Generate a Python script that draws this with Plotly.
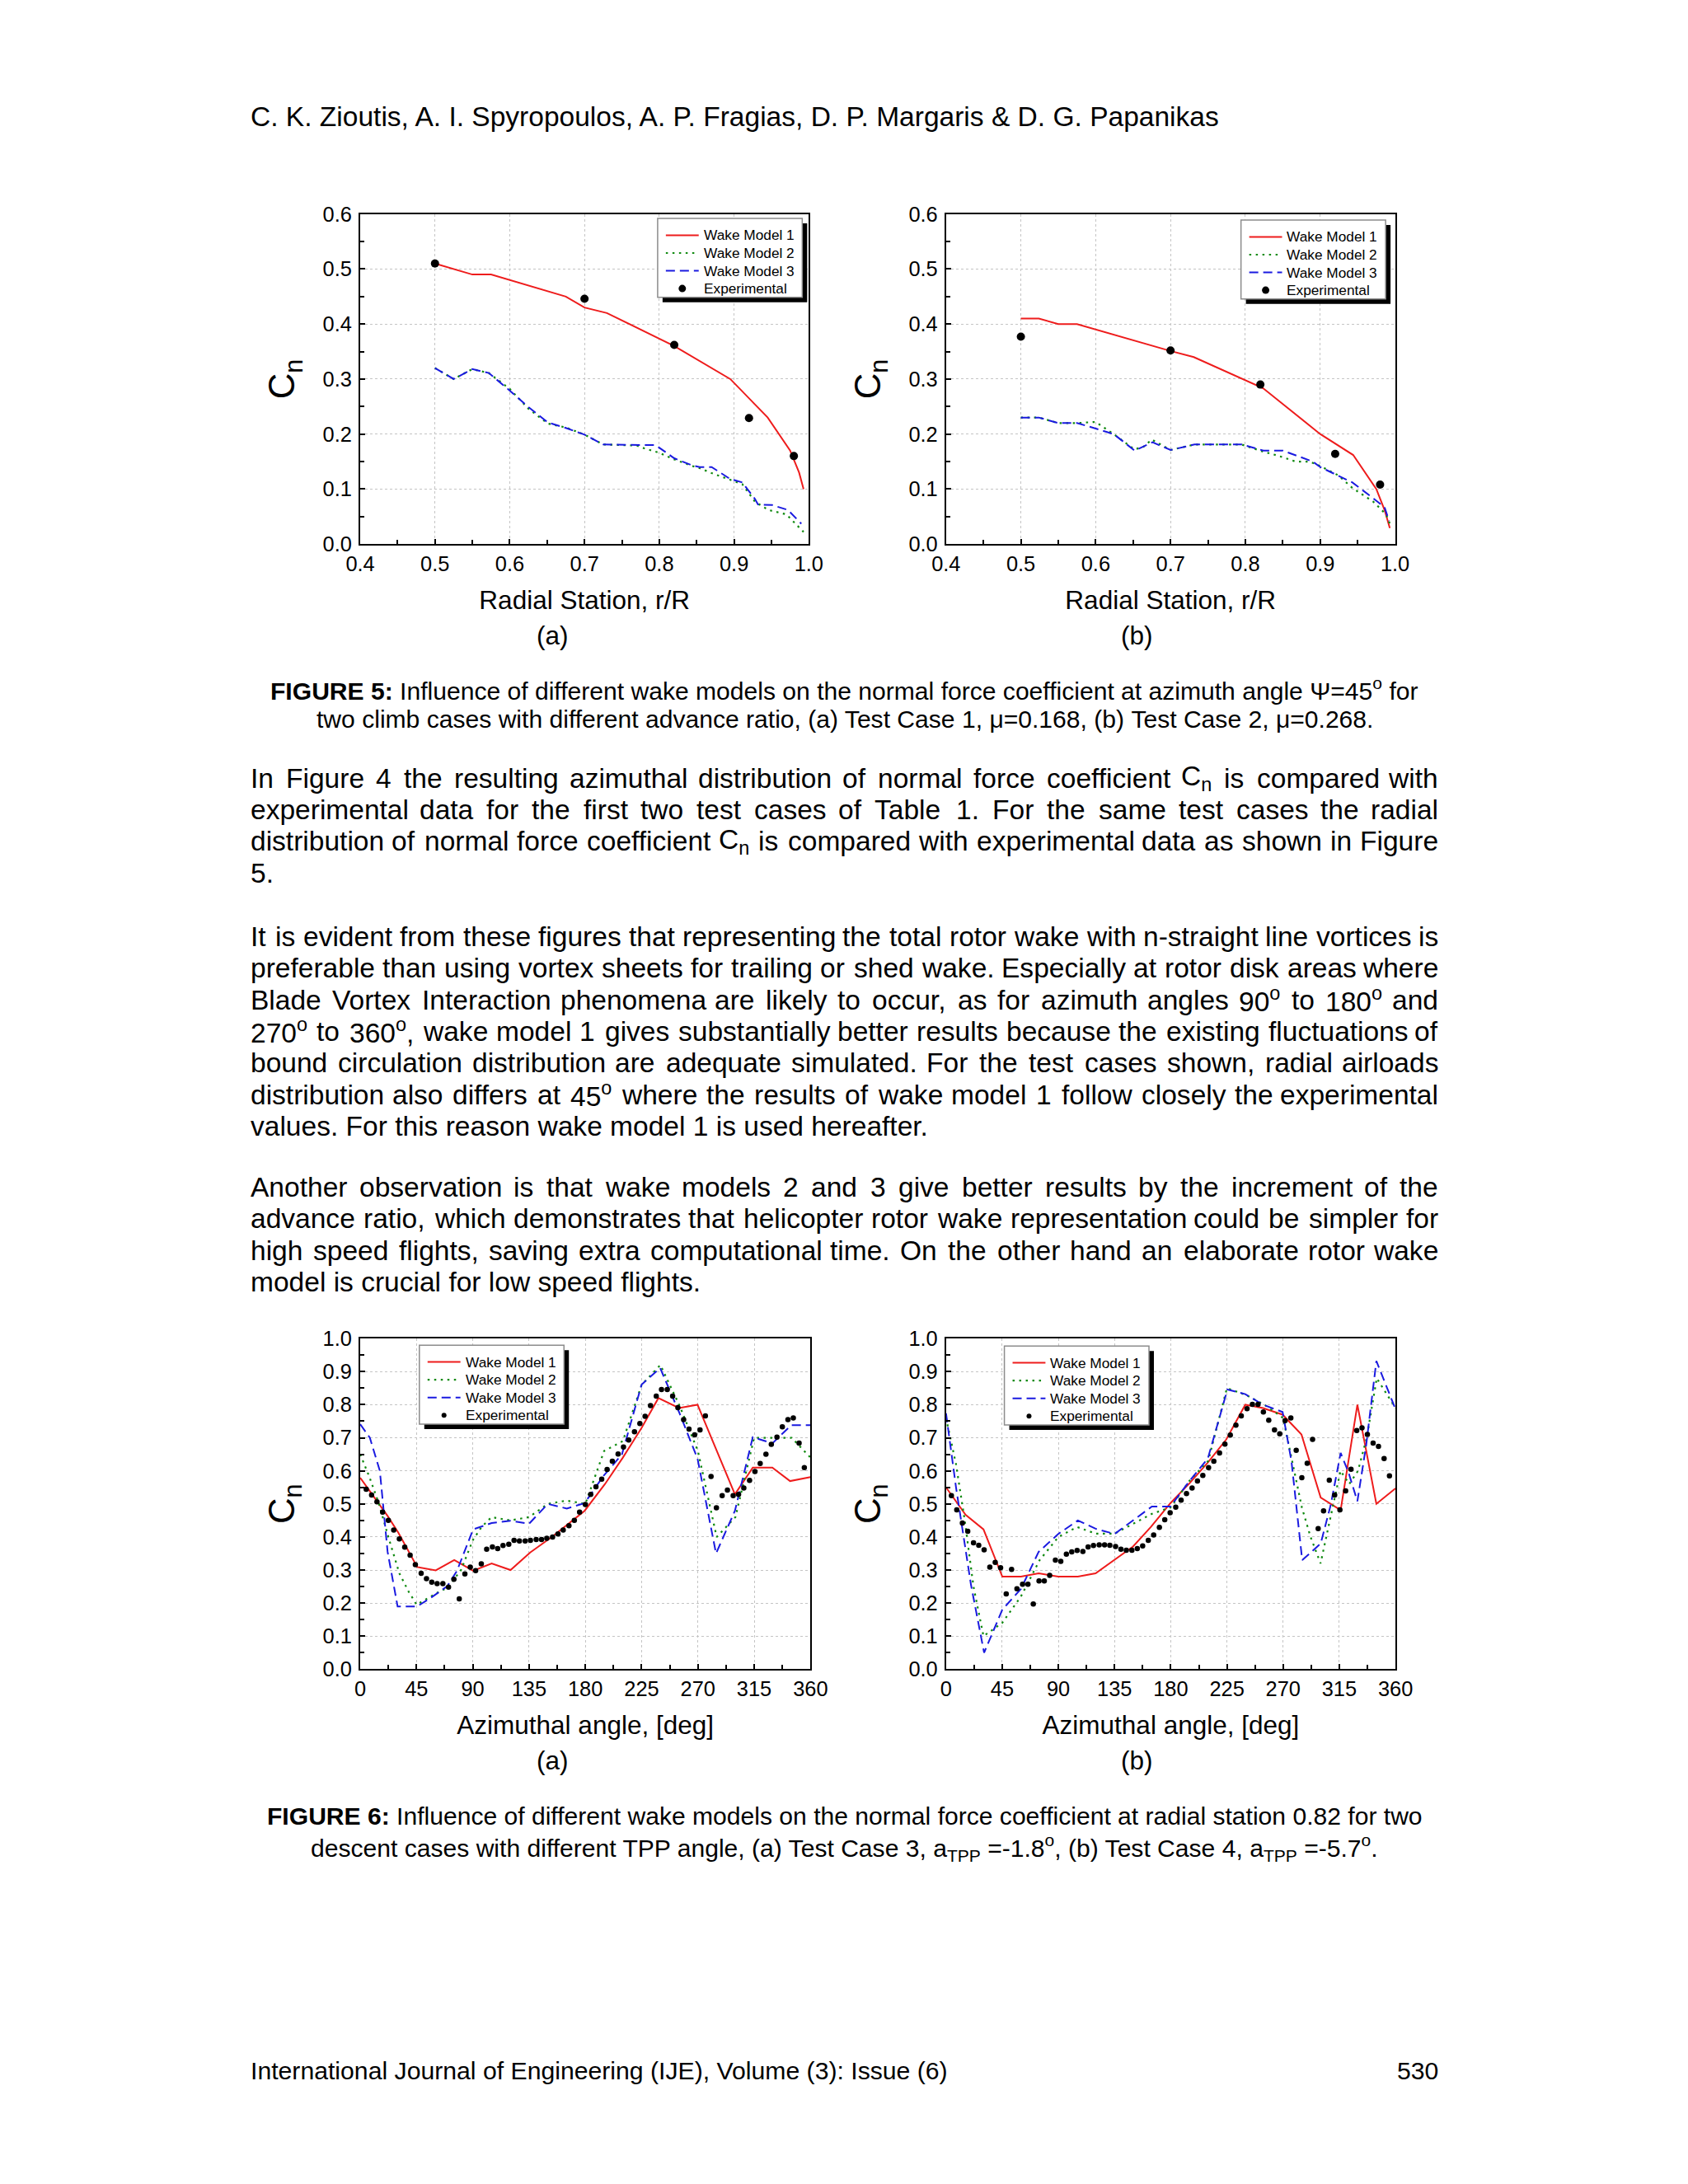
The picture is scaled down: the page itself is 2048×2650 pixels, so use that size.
import re
import plotly.graph_objects as go

# ---------------- DATA ----------------
# Figure 5 (a): radial distribution, Test Case 1
r_wm1_a = [0.5, 0.55, 0.575, 0.675, 0.7, 0.73, 0.82, 0.895, 0.945, 0.975, 0.987, 0.993]
cn_wm1_a = [0.51, 0.49, 0.49, 0.45, 0.43, 0.42, 0.36, 0.30, 0.23, 0.17, 0.13, 0.10]
r_wm2_a = [0.5, 0.525, 0.55, 0.572, 0.6, 0.625, 0.651, 0.675, 0.7, 0.725, 0.77, 0.78, 0.8, 0.82,
           0.844, 0.854, 0.87, 0.894, 0.911, 0.928, 0.946, 0.97, 0.993]
cn_wm2_a = [0.32, 0.30, 0.318, 0.311, 0.282, 0.246, 0.219, 0.212, 0.199, 0.181, 0.179, 0.174, 0.166, 0.154,
            0.142, 0.138, 0.129, 0.117, 0.109, 0.077, 0.062, 0.054, 0.022]
r_wm3_a = [0.5, 0.525, 0.55, 0.572, 0.6, 0.625, 0.651, 0.675, 0.7, 0.725, 0.775, 0.795, 0.82, 0.844,
           0.854, 0.87, 0.894, 0.911, 0.928, 0.932, 0.951, 0.972, 0.99]
cn_wm3_a = [0.32, 0.30, 0.318, 0.311, 0.279, 0.249, 0.221, 0.211, 0.199, 0.181, 0.18, 0.18, 0.156, 0.143,
            0.14, 0.14, 0.119, 0.112, 0.082, 0.072, 0.071, 0.062, 0.037]
r_exp_a = [0.5, 0.7, 0.82, 0.92, 0.98]
cn_exp_a = [0.51, 0.446, 0.362, 0.229, 0.16]

# Figure 5 (b): radial distribution, Test Case 2
r_wm1_b = [0.5, 0.524, 0.55, 0.575, 0.7, 0.731, 0.824, 0.9, 0.944, 0.975, 0.986, 0.993]
cn_wm1_b = [0.41, 0.41, 0.40, 0.40, 0.351, 0.34, 0.283, 0.20, 0.162, 0.10, 0.062, 0.029]
r_wm2_b = [0.5, 0.524, 0.55, 0.575, 0.6, 0.624, 0.652, 0.664, 0.675, 0.688, 0.7, 0.732, 0.795, 0.824,
           0.843, 0.867, 0.886, 0.9, 0.924, 0.943, 0.971, 0.988, 0.993]
cn_wm2_b = [0.23, 0.23, 0.22, 0.22, 0.222, 0.20, 0.172, 0.177, 0.19, 0.18, 0.171, 0.181, 0.181, 0.168,
            0.161, 0.15, 0.15, 0.142, 0.125, 0.102, 0.077, 0.054, 0.037]
r_wm3_b = [0.5, 0.524, 0.55, 0.575, 0.6, 0.624, 0.652, 0.676, 0.7, 0.732, 0.795, 0.824, 0.85, 0.874,
           0.89, 0.9, 0.924, 0.943, 0.971, 0.986, 0.992]
cn_wm3_b = [0.23, 0.23, 0.22, 0.22, 0.21, 0.20, 0.17, 0.185, 0.171, 0.181, 0.181, 0.17, 0.17, 0.158,
            0.15, 0.14, 0.125, 0.112, 0.083, 0.067, 0.042]
r_exp_b = [0.5, 0.7, 0.82, 0.92, 0.98]
cn_exp_b = [0.377, 0.352, 0.29, 0.164, 0.108]

# Figure 6 (a): azimuthal distribution, Test Case 3
psi_wm1_c = [0, 22, 30.5, 45.6, 60.4, 75.2, 90.3, 105.1, 120.2, 135.9, 152.9, 179.4, 195.7, 210, 225,
             238.4, 254.9, 269.7, 299.6, 313.9, 329.5, 343.7, 360]
cn_wm1_c = [0.579, 0.463, 0.413, 0.309, 0.299, 0.33, 0.298, 0.32, 0.30, 0.353, 0.399, 0.479, 0.56, 0.64, 0.73,
            0.82, 0.79, 0.80, 0.529, 0.61, 0.61, 0.569, 0.581]
psi_wm2_c = [0, 7.5, 15, 22.5, 31.3, 38.8, 43.4, 45, 63, 69.6, 80.6, 90, 97, 105, 120, 135, 150, 165, 180,
             195, 210, 225, 240, 255, 270, 285, 300, 315, 330, 345, 360]
cn_wm2_c = [0.65, 0.58, 0.50, 0.40, 0.29, 0.234, 0.206, 0.195, 0.234, 0.246, 0.30, 0.39, 0.43, 0.46, 0.45,
            0.46, 0.50, 0.51, 0.50, 0.66, 0.69, 0.86, 0.92, 0.80, 0.66, 0.40, 0.46, 0.70, 0.70, 0.70, 0.64]
psi_wm3_c = [0, 7.7, 15.7, 21.9, 29.9, 45.6, 56.5, 69.6, 77.3, 90.3, 105.1, 120.2, 135, 150, 165.2, 179.4,
             194.2, 209.3, 225, 239.8, 254.9, 269.7, 284.5, 299.6, 313.9, 329.5, 344.6, 360]
cn_wm3_c = [0.741, 0.70, 0.60, 0.355, 0.19, 0.19, 0.216, 0.251, 0.297, 0.423, 0.442, 0.449, 0.44, 0.50, 0.486,
            0.502, 0.583, 0.65, 0.861, 0.911, 0.778, 0.637, 0.35, 0.479, 0.702, 0.683, 0.738, 0.738]
psi_exp_c = [4.8, 9.1, 13.4, 17.9, 22.5, 26.8, 31.3, 35.6, 39.9, 44.1, 48.7, 53, 57.2, 61.5, 66.1, 70.6,
             74.9, 79.2, 83.7, 88, 92.3, 96.8, 101.1, 105.7, 109.9, 114.2, 118.8, 123, 127.3, 131.9, 136.1,
             140.7, 145, 149.2, 153.8, 158.1, 162.3, 166.9, 171.2, 175.4, 180, 184.3, 188.5, 193.1, 197.4,
             201.6, 206.2, 210.5, 214.7, 219.3, 223.6, 227.8, 232.1, 236.7, 240.9, 245.5, 249.8, 254, 258.6,
             262.9, 267.4, 271.7, 276, 280.5, 284.8, 289.4, 293.6, 298.2, 302.5, 306.7, 311.3, 315.6, 319.8,
             324.4, 328.7, 333.2, 337.5, 342, 346.3, 350.9, 355.1]
cn_exp_c = [0.544, 0.527, 0.506, 0.475, 0.45, 0.421, 0.394, 0.369, 0.345, 0.316, 0.29, 0.274, 0.263, 0.259,
            0.259, 0.248, 0.272, 0.213, 0.288, 0.309, 0.298, 0.319, 0.363, 0.37, 0.365, 0.374, 0.378, 0.39,
            0.388, 0.388, 0.39, 0.392, 0.392, 0.396, 0.40, 0.409, 0.421, 0.434, 0.45, 0.475, 0.498, 0.529,
            0.552, 0.575, 0.604, 0.629, 0.651, 0.672, 0.693, 0.718, 0.743, 0.765, 0.797, 0.826, 0.846, 0.846,
            0.826, 0.791, 0.755, 0.726, 0.709, 0.724, 0.766, 0.583, 0.488, 0.525, 0.542, 0.525, 0.529, 0.548,
            0.571, 0.598, 0.622, 0.65, 0.68, 0.702, 0.733, 0.755, 0.76, 0.684, 0.61]

# Figure 6 (b): azimuthal distribution, Test Case 4
psi_wm1_d = [0, 15.7, 30, 45.1, 60, 74.2, 89.9, 105.6, 119.8, 135, 149.8, 164, 179.7, 195.4, 209.7, 224.5,
             239.7, 253.9, 269.6, 284.7, 300.1, 316.1, 329.5, 344.7, 360]
cn_wm1_d = [0.55, 0.467, 0.423, 0.28, 0.28, 0.29, 0.28, 0.28, 0.29, 0.33, 0.371, 0.43, 0.502, 0.564, 0.625,
            0.695, 0.80, 0.79, 0.77, 0.71, 0.519, 0.481, 0.80, 0.50, 0.547]
psi_wm2_d = [0, 8, 15, 22, 30, 45, 60, 75, 90, 105, 120, 135, 150, 165, 180, 195, 210, 225, 240, 255, 270,
             277, 285, 292, 300, 308, 316, 323, 330, 337, 345, 360]
cn_wm2_d = [0.76, 0.62, 0.45, 0.25, 0.10, 0.14, 0.22, 0.33, 0.40, 0.43, 0.41, 0.41, 0.44, 0.47, 0.49, 0.57,
            0.63, 0.85, 0.83, 0.80, 0.76, 0.63, 0.49, 0.40, 0.32, 0.46, 0.60, 0.56, 0.60, 0.70, 0.88, 0.79]
psi_wm3_d = [0, 8, 20, 30.5, 45.1, 60, 74.2, 89.9, 105.6, 119.8, 135, 149.8, 164.9, 179.7, 195.4, 209.7,
             225.4, 239.7, 253.9, 269.6, 276.7, 285.3, 293.9, 300.1, 308.1, 316.1, 322.4, 329.5, 336.6, 344.7, 360]
cn_wm3_d = [0.774, 0.55, 0.255, 0.05, 0.18, 0.243, 0.355, 0.409, 0.45, 0.425, 0.409, 0.45, 0.492, 0.492,
            0.571, 0.637, 0.846, 0.832, 0.80, 0.778, 0.629, 0.33, 0.359, 0.38, 0.496, 0.654, 0.595, 0.508,
            0.679, 0.932, 0.787]
psi_exp_d = [4.3, 8.6, 13.1, 17.4, 22, 26.2, 30.5, 35.1, 39.4, 43.7, 48.2, 52.5, 56.8, 61.3, 65.6, 69.9,
             74.5, 78.7, 83, 87.6, 91.9, 96.4, 100.7, 105, 109.6, 113.8, 118.1, 122.7, 127, 131.2, 135.8,
             140.1, 144.4, 148.9, 153.2, 157.5, 162, 166.3, 170.9, 175.2, 179.5, 184, 188.3, 192.6, 197.1,
             201.4, 205.7, 210.3, 214.5, 219.1, 223.4, 227.7, 232.2, 236.5, 241.1, 245.4, 249.9, 254.2,
             258.5, 263.1, 267.3, 271.6, 276.2, 280.5, 285, 289.3, 293.6, 298.1, 302.4, 307, 311.3, 315.5,
             320.1, 324.4, 329, 333.2, 337.5, 342.1, 346.4, 350.9, 355.2]
cn_exp_d = [0.525, 0.482, 0.442, 0.417, 0.382, 0.375, 0.361, 0.309, 0.323, 0.307, 0.228, 0.302, 0.243, 0.257,
            0.257, 0.197, 0.267, 0.267, 0.284, 0.33, 0.326, 0.348, 0.355, 0.359, 0.356, 0.37, 0.374, 0.376,
            0.376, 0.375, 0.371, 0.363, 0.36, 0.36, 0.365, 0.373, 0.39, 0.406, 0.429, 0.452, 0.473, 0.49,
            0.511, 0.531, 0.548, 0.569, 0.586, 0.61, 0.629, 0.654, 0.681, 0.708, 0.738, 0.766, 0.788, 0.801,
            0.801, 0.778, 0.753, 0.724, 0.712, 0.752, 0.76, 0.662, 0.579, 0.623, 0.695, 0.425, 0.479, 0.572,
            0.527, 0.482, 0.539, 0.605, 0.722, 0.73, 0.71, 0.684, 0.674, 0.637, 0.585]

series_names = ["Wake Model 1", "Wake Model 2", "Wake Model 3", "Experimental"]

# ---------------- PAGE GEOMETRY ----------------
# The browser body keeps its default 8px margin, so the figure is 16px smaller than the window.
PAGE_W, PAGE_H, BODY_MARGIN = 2048, 2650, 8
W, H = PAGE_W - 2 * BODY_MARGIN, PAGE_H - 2 * BODY_MARGIN
# The photographed page comes out slightly shrunk towards its centre; these factors undo that
# so positions given in reference-page pixels land where intended.
AX, BX = 0.9839, 13.8
AY, BY = 0.9914, 10.6
FS = 1 / AX  # size factor for fonts / markers
FONT = "Liberation Sans, Arial, sans-serif"
RED, GREEN, BLUE = "#ee1c1c", "#108a10", "#1a1ae0"


def fx(px):
    return ((px - BX) / AX - BODY_MARGIN) / W


def fy(py):
    return 1 - ((py - BY) / AY - BODY_MARGIN) / H


def fs(size):
    return round(size * FS, 2)


fig = go.Figure()

panels = [
    dict(sfx="", xd=(434, 980), yd=(256.7, 658), xr=[0.4, 1.0], xdt=0.1, yr=[0, 0.6],
         data=[(r_wm1_a, cn_wm1_a), (r_wm2_a, cn_wm2_a), (r_wm3_a, cn_wm3_a), (r_exp_a, cn_exp_a)],
         msize=10, xtitle="Radial Station, r/R", legbox=(796, 262), legdot=9),
    dict(sfx="2", xd=(1147, 1693.5), yd=(256.7, 658), xr=[0.4, 1.0], xdt=0.1, yr=[0, 0.6],
         data=[(r_wm1_b, cn_wm1_b), (r_wm2_b, cn_wm2_b), (r_wm3_b, cn_wm3_b), (r_exp_b, cn_exp_b)],
         msize=10, xtitle="Radial Station, r/R", legbox=(1506, 264), legdot=9),
    dict(sfx="3", xd=(434, 982), yd=(1624, 2026), xr=[0, 360], xdt=45, yr=[0, 1.0],
         data=[(psi_wm1_c, cn_wm1_c), (psi_wm2_c, cn_wm2_c), (psi_wm3_c, cn_wm3_c), (psi_exp_c, cn_exp_c)],
         msize=6.5, xtitle="Azimuthal angle, [deg]", legbox=(506, 1632), legdot=6),
    dict(sfx="4", xd=(1147, 1694), yd=(1624, 2026), xr=[0, 360], xdt=45, yr=[0, 1.0],
         data=[(psi_wm1_d, cn_wm1_d), (psi_wm2_d, cn_wm2_d), (psi_wm3_d, cn_wm3_d), (psi_exp_d, cn_exp_d)],
         msize=6.5, xtitle="Azimuthal angle, [deg]", legbox=(1218, 1633), legdot=6),
]

line_styles = [
    dict(color=RED, width=2, dash="solid"),
    dict(color=GREEN, width=2.2, dash="2.5px,5.5px"),
    dict(color=BLUE, width=2, dash="11px,6px"),
]

axis_common = dict(
    showline=True, linecolor="black", linewidth=2, mirror=True,
    ticks="inside", ticklen=6, tickwidth=1.5, tickcolor="black",
    showgrid=True, gridcolor="#c4c4c4", griddash="dot", gridwidth=1,
    zeroline=False,
    tickfont=dict(family=FONT, size=fs(25), color="black"),
)

layout = dict(
    width=W, height=H, margin=dict(l=0, r=0, t=0, b=0),
    paper_bgcolor="white", plot_bgcolor="white",
    font=dict(family=FONT, color="black"),
    showlegend=False,
)

shapes = []
annotations = []


def text(x, y, s, size=33, xanchor="left"):
    annotations.append(dict(x=fx(x), y=fy(y), xref="paper", yref="paper", text=s, showarrow=False,
                            xanchor=xanchor, yanchor="middle", borderpad=0, borderwidth=0,
                            font=dict(family=FONT, size=fs(size), color="black")))


LEG_W, LEG_H, LEG_ROW0, LEG_ROW, SHADOW = 176, 96, 20.5, 21.6, 6
for p in panels:
    s = p["sfx"]
    xa, ya = "x" + s, "y" + s
    for i, (xs, ys) in enumerate(p["data"]):
        if i < 3:
            fig.add_trace(go.Scatter(x=xs, y=ys, mode="lines", name=series_names[i],
                                     line=line_styles[i], xaxis=xa, yaxis=ya))
        else:
            fig.add_trace(go.Scatter(x=xs, y=ys, mode="markers", name=series_names[i],
                                     marker=dict(color="black", size=p["msize"]),
                                     xaxis=xa, yaxis=ya))
    is_az = p["xr"][1] == 360
    layout["xaxis" + s] = dict(
        axis_common, domain=[fx(p["xd"][0]), fx(p["xd"][1])], anchor=ya, range=p["xr"],
        dtick=p["xdt"], tick0=p["xr"][0], tickformat="d" if is_az else ".1f",
        minor=dict(ticks="inside", ticklen=5, tickcolor="black", dtick=p["xdt"] / 2, showgrid=False),
        title=dict(text=p["xtitle"], font=dict(family=FONT, size=fs(31), color="black"), standoff=20),
    )
    layout["yaxis" + s] = dict(
        axis_common, domain=[fy(p["yd"][1]), fy(p["yd"][0])], anchor=xa, range=p["yr"],
        dtick=0.1, tick0=0, tickformat=".1f", ticklabelstandoff=3,
        minor=dict(ticks="inside", ticklen=5, tickcolor="black", dtick=0.05, showgrid=False),
        title=dict(text="C<sub>n</sub>", font=dict(family=FONT, size=fs(43), color="black"), standoff=20),
    )

    # legend box (framed box with a drop shadow, like the original Origin legend)
    bx, by = p["legbox"]
    shapes.append(dict(type="rect", xref="paper", yref="paper", layer="above",
                       x0=fx(bx + SHADOW), x1=fx(bx + LEG_W + SHADOW),
                       y0=fy(by + LEG_H + SHADOW), y1=fy(by + SHADOW),
                       fillcolor="black", line=dict(width=0)))
    shapes.append(dict(type="rect", xref="paper", yref="paper", layer="above",
                       x0=fx(bx), x1=fx(bx + LEG_W), y0=fy(by + LEG_H), y1=fy(by),
                       fillcolor="white", line=dict(color="#8c8c8c", width=1.5)))
    for i, name in enumerate(series_names):
        ry = by + LEG_ROW0 + LEG_ROW * i
        if i < 3:
            shapes.append(dict(type="line", xref="paper", yref="paper", layer="above",
                               x0=fx(bx + 10), x1=fx(bx + 50), y0=fy(ry), y1=fy(ry),
                               line=line_styles[i]))
        else:
            d = p["legdot"] / 2
            shapes.append(dict(type="circle", xref="paper", yref="paper", layer="above",
                               x0=fx(bx + 30 - d), x1=fx(bx + 30 + d), y0=fy(ry + d), y1=fy(ry - d),
                               fillcolor="black", line=dict(width=0)))
        text(bx + 56, ry, name, 17)

layout["shapes"] = shapes

# ---------------- PAGE TEXT ----------------
# Helvetica/Arial advance widths (per 1000 em) used to justify paragraph lines.
_W = {' ': 278, ',': 278, '-': 333, '.': 278, '/': 278, ':': 278, '(': 333, ')': 333, '&': 667,
      '=': 584, '0': 556, '1': 556, '2': 556, '3': 556, '4': 556, '5': 556, '6': 556, '7': 556,
      '8': 556, '9': 556, 'A': 667, 'B': 667, 'C': 722, 'D': 722, 'E': 667, 'F': 611, 'G': 778,
      'H': 722, 'I': 278, 'J': 500, 'K': 667, 'L': 556, 'M': 833, 'N': 722, 'O': 778, 'P': 667,
      'Q': 778, 'R': 722, 'S': 667, 'T': 611, 'U': 722, 'V': 667, 'W': 944, 'X': 667, 'Y': 667,
      'Z': 611, 'a': 556, 'b': 556, 'c': 500, 'd': 556, 'e': 556, 'f': 278, 'g': 556, 'h': 556,
      'i': 222, 'j': 222, 'k': 500, 'l': 222, 'm': 833, 'n': 556, 'o': 556, 'p': 556, 'q': 556,
      'r': 333, 's': 500, 't': 278, 'u': 556, 'v': 500, 'w': 722, 'x': 500, 'y': 500, 'z': 500}


def word_width(word, size):
    total, scale = 0.0, 1.0
    for tok in re.split(r"(<[^>]+>)", word):
        if tok.startswith("<"):
            scale = 0.7 if tok in ("<sub>", "<sup>") else 1.0
            continue
        for ch in tok:
            total += _W.get(ch, 600) * scale
    return total * size / 1000.0


LEFT, RIGHT = 301, 1746
BODY = 33
CAPTION = 29.6
FOOT = 29.7


def justified(y, line):
    words = line.split(" ")
    widths = [word_width(w, BODY) for w in words]
    gap = (RIGHT - LEFT - sum(widths)) / (len(words) - 1)
    x = LEFT
    for i, w in enumerate(words):
        if i == len(words) - 1:
            text(RIGHT, y, w, BODY, "right")
        else:
            text(x, y, w, BODY, "left")
        x += widths[i] + gap


text(LEFT, 138, "C. K. Zioutis, A. I. Spyropoulos, A. P. Fragias, D. P. Margaris &amp; D. G. Papanikas")

text(668, 769, "(a)", 31, "center")
text(1379, 769, "(b)", 31, "center")
text(668, 2137, "(a)", 31, "center")
text(1379, 2137, "(b)", 31, "center")

CENTER = 1023.5
text(CENTER, 834, "<b>FIGURE 5:</b> Influence of different wake models on the normal force coefficient at "
                  "azimuth angle Ψ=45<sup>o</sup> for", CAPTION, "center")
text(CENTER, 871, "two climb cases with different advance ratio, (a) Test Case 1, μ=0.168, (b) Test Case 2, "
                  "μ=0.268.", CAPTION, "center")

para1 = [
    "In Figure 4 the resulting azimuthal distribution of normal force coefficient C<sub>n</sub> is compared with",
    "experimental data for the first two test cases of Table 1. For the same test cases the radial",
    "distribution of normal force coefficient C<sub>n</sub> is compared with experimental data as shown in Figure",
    "5.",
]
para2 = [
    "It is evident from these figures that representing the total rotor wake with n-straight line vortices is",
    "preferable than using vortex sheets for trailing or shed wake. Especially at rotor disk areas where",
    "Blade Vortex Interaction phenomena are likely to occur, as for azimuth angles 90<sup>o</sup> to "
    "180<sup>o</sup> and",
    "270<sup>o</sup> to 360<sup>o</sup>, wake model 1 gives substantially better results because the existing "
    "fluctuations of",
    "bound circulation distribution are adequate simulated. For the test cases shown, radial airloads",
    "distribution also differs at 45<sup>o</sup> where the results of wake model 1 follow closely the "
    "experimental",
    "values. For this reason wake model 1 is used hereafter.",
]
para3 = [
    "Another observation is that wake models 2 and 3 give better results by the increment of the",
    "advance ratio, which demonstrates that helicopter rotor wake representation could be simpler for",
    "high speed flights, saving extra computational time. On the other hand an elaborate rotor wake",
    "model is crucial for low speed flights.",
]
for start, para in [(942.5, para1), (1135, para2), (1440, para3)]:
    for i, line in enumerate(para):
        y = start + 38.5 * i
        if i == len(para) - 1:
            text(LEFT, y, line, BODY)
        else:
            justified(y, line)

text(CENTER, 2205, "<b>FIGURE 6:</b> Influence of different wake models on the normal force coefficient at "
                   "radial station 0.82 for two", CAPTION, "center")
text(CENTER, 2243, "descent cases with different TPP angle, (a) Test Case 3, a<sub>TPP</sub> =-1.8<sup>o</sup>, "
                   "(b) Test Case 4, a<sub>TPP</sub> =-5.7<sup>o</sup>.", CAPTION, "center")

text(LEFT, 2514, "International Journal of Engineering (IJE), Volume (3): Issue (6)", FOOT)
text(RIGHT, 2514, "530", FOOT, "right")

layout["annotations"] = annotations
fig.update_layout(**layout)

fig.write_html("out.html", config={"displayModeBar": False})
